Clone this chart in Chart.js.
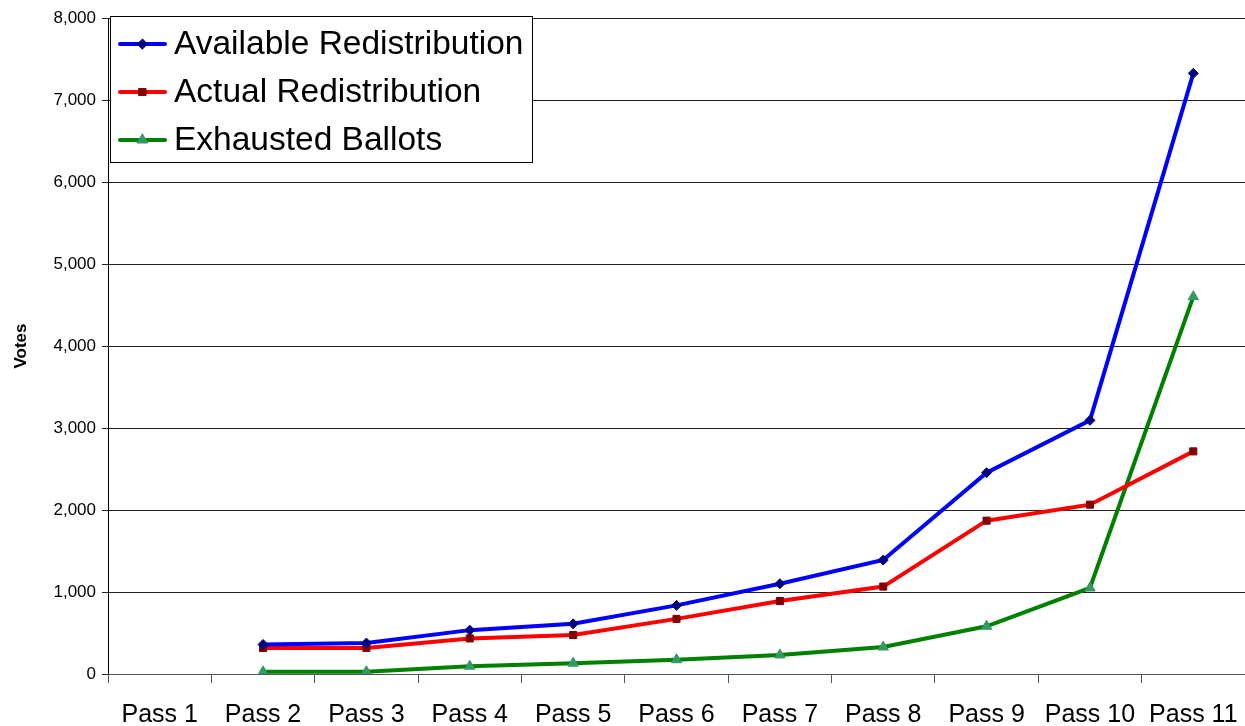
<!DOCTYPE html>
<html>
<head>
<meta charset="utf-8">
<script src="https://cdn.jsdelivr.net/npm/chart.js@4"></script>
<style>
html,body{margin:0;padding:0;background:#fff;}
#wrap{width:1245px;height:726px;position:relative;}
</style>
</head>
<body>
<div id="wrap"><canvas id="c" width="1245" height="726"></canvas></div>
<script>
const categories = ['Pass 1','Pass 2','Pass 3','Pass 4','Pass 5','Pass 6','Pass 7','Pass 8','Pass 9','Pass 10','Pass 11'];
const availableRedistribution = [null, 360, 378, 535, 612, 837, 1101, 1390, 2455, 3093, 7325];
const actualRedistribution    = [null, 317, 317, 434, 475, 672, 890, 1066, 1870, 2065, 2715];
const exhaustedBallots        = [null, 26, 28, 95, 132, 174, 232, 329, 582, 1049, 4602];
const yTicks = [0,1000,2000,3000,4000,5000,6000,7000,8000];
const seriesNames = ['Available Redistribution','Actual Redistribution','Exhausted Ballots'];

const FONT = '"Liberation Sans", Arial, sans-serif';

const legendPlugin = {
  id: 'boxLegend',
  afterDraw(chart) {
    const ctx = chart.ctx;
    const x0 = 110, y0 = 16, w = 422, h = 146;
    ctx.save();
    ctx.fillStyle = '#fff';
    ctx.fillRect(x0, y0, w, h);
    ctx.strokeStyle = '#000';
    ctx.lineWidth = 1;
    ctx.strokeRect(x0 + 0.5, y0 + 0.5, w, h);
    const rows = [44, 92, 140];
    chart.data.datasets.forEach((ds, i) => {
      const y = rows[i];
      ctx.strokeStyle = ds.borderColor;
      ctx.lineWidth = 4;
      ctx.lineCap = 'round';
      ctx.beginPath();
      ctx.moveTo(120, y);
      ctx.lineTo(165, y);
      ctx.stroke();
      ctx.fillStyle = ds.pointBackgroundColor;
      ctx.strokeStyle = ds.pointBorderColor;
      ctx.lineWidth = 1;
      Chart.helpers.drawPoint(ctx, {pointStyle: ds.pointStyle, radius: ds.pointRadius, rotation: 0, borderWidth: 1}, 142.5, y);
      ctx.fillStyle = '#000';
      ctx.font = '33.5px ' + FONT;
      ctx.textBaseline = 'middle';
      ctx.textAlign = 'left';
      ctx.fillText(ds.label, 174, y + 1);
    });
    ctx.restore();
  }
};

new Chart(document.getElementById('c'), {
  type: 'line',
  data: {
    labels: categories,
    datasets: [
      {label: seriesNames[0], data: availableRedistribution, borderColor: '#0000FF', borderWidth: 4,
       pointStyle: 'rectRot', pointRadius: 5, pointBackgroundColor: '#000080', pointBorderColor: '#000080', pointBorderWidth: 1, tension: 0},
      {label: seriesNames[1], data: actualRedistribution, borderColor: '#FF0000', borderWidth: 4,
       pointStyle: 'rect', pointRadius: 5, pointBackgroundColor: '#800000', pointBorderColor: '#800000', pointBorderWidth: 1, tension: 0},
      {label: seriesNames[2], data: exhaustedBallots, borderColor: '#008000', borderWidth: 4,
       pointStyle: 'triangle', pointRadius: 6, pointBackgroundColor: '#339966', pointBorderColor: '#339966', pointBorderWidth: 1, tension: 0}
    ]
  },
  options: {
    responsive: false,
    animation: false,
    spanGaps: false,
    layout: {autoPadding: false, padding: {top: 18, right: 0, left: 0, bottom: 0}},
    plugins: {legend: {display: false}, tooltip: {enabled: false}},
    scales: {
      x: {
        offset: true,
        grid: {offset: true, drawOnChartArea: false, drawTicks: true, tickLength: 9, color: '#555'},
        border: {color: '#555', width: 1},
        ticks: {font: {family: FONT, size: 25}, color: '#000', padding: 17, maxRotation: 0, autoSkip: false},
        afterFit(s) { s.height = 52; s.paddingRight = 0; s.paddingLeft = 0; }
      },
      y: {
        min: 0, max: 8000,
        afterBuildTicks(s) { s.ticks = yTicks.map(v => ({value: v})); },
        grid: {color: '#222', lineWidth: 1, tickLength: 6},
        border: {color: '#000', width: 1},
        ticks: {font: {family: FONT, size: 17}, color: '#000', padding: 6,
                callback: v => v.toLocaleString('en-US')},
        title: {display: true, text: 'Votes', font: {family: FONT, size: 17, weight: 'bold'}, color: '#000', padding: {top: 11, bottom: 0}},
        afterFit(s) { s.width = 108; }
      }
    }
  },
  plugins: [legendPlugin]
});
</script>
</body>
</html>
